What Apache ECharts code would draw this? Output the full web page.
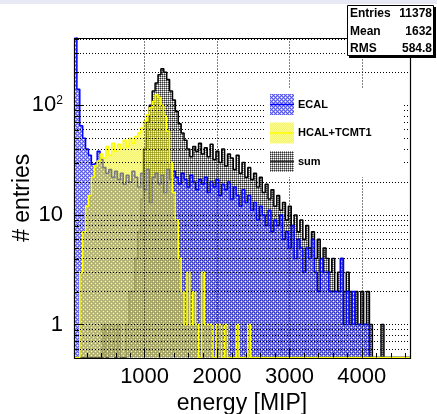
<!DOCTYPE html>
<html><head><meta charset="utf-8">
<script src="https://cdn.jsdelivr.net/npm/echarts@6/dist/echarts.min.js"></script>
<style>html,body{margin:0;padding:0;background:#fff}#c{width:437px;height:414px}</style>
</head><body><div id="c"></div><script>
// ---------------- data ----------------
const BIN_START = 25, BIN_WIDTH = 40;           // histogram bin edges: 25 + 40*i  [MIP]
const ecal = [700,140,65,50,40,35,29,30,38,32, 27,24,26,22,25,21,24,19,23,20, 25,22,18,24,17,26,13,22,24,19,
  23,16,26,21,25,22,19,24,21,18, 23,20,17,21,19,22,16,20,18,21, 15,19,17,20,14,18,15,12,17,13,
  15,11,13,9,12,10,8,11,7,9, 8,10,6,7,5,8,4,6,5,3, 5,4,6,3,2,4,3,3,2,2,
  2,2,4,1,2,1,2,1,1,1, 1,1,0,0,0,0,0,0,0,0, 0,0,0,0,0,0];
const hcal = [0,0,3,7,12,15,22,28,31,36, 33,42,35,45,38,44,40,48,42,50, 45,52,56,62,72,82,95,108,125,118,
  100,80,58,30,16,9,4,2,1,3, 1,2,1,0,3,1,1,1,0,1, 1,0,1,0,0,0,1,0,0,0,
  1,0,0,0,0,0,0,0,0,0, 0,0,0,0,0,0,0,0,0,0, 0,0,0,0,0,0,0,0,0,0,
  0,0,0,0,0,0,0,0,0,0, 0,0,0,0,0,0,0,0,0,0, 0,0,0,0,0,0];
const sum = [0,0,0,0,0,0,0,0,0,0, 1,0,1,1,0,1,0,0,1,2, 2,4,7,14,40,70,100,135,160,190,
  215,200,172,135,112,88,68,56,48,40, 34,42,38,45,36,41,34,44,32,38, 30,40,28,36,33,26,35,24,30,22,
  27,21,24,18,22,16,19,14,17,12, 15,11,13,9,12,8,10,7,9,6, 8,5,7,4,6,3,5,4,3,4,
  2,3,4,2,3,2,1,2,1,2, 1,2,1,0,0,0,1,0,0,0, 0,0,0,0,0,0];
const seriesNames = ['ECAL', 'HCAL+TCMT1', 'sum'];
const statsLabels = ['Entries', 'Mean', 'RMS'];
const statsValues = ['11378', '1632', '584.8'];
const xTickValues = [1000, 2000, 3000, 4000];
const X_MIN = 25, X_MAX = 4665, Y_MIN = 0.5, Y_MAX = 411;
const xTitle = 'energy [MIP]', yTitle = '# entries';

// ---------------- helpers ----------------
const FONT = '"Liberation Sans", Arial, Helvetica, sans-serif';
function steps(counts) {
  const pts = counts.map((c, i) => [BIN_START + i * BIN_WIDTH, c > 0 ? c : Y_MIN]);
  const last = counts[counts.length - 1];
  pts.push([BIN_START + counts.length * BIN_WIDTH, last > 0 ? last : Y_MIN]);
  return pts;
}
function makePattern(rows) {
  const c = document.createElement('canvas');
  c.width = rows[0].length; c.height = rows.length;
  const g = c.getContext('2d');
  rows.forEach((r, y) => r.forEach((col, x) => { g.fillStyle = col; g.fillRect(x, y, 1, 1); }));
  return { image: c, repeat: 'repeat' };
}
const B = 'rgba(50,50,230,0.8)', M = 'rgba(120,120,245,0.7)', W = 'rgba(255,255,255,0.6)';
const patEcal = makePattern([[B,M,B,M],[M,W,M,B],[B,M,B,M],[M,B,M,W]]);
const D = 'rgba(0,0,0,0.8)', G = 'rgba(120,120,120,0.8)', L = 'rgba(255,255,255,0.5)';
const patSum = makePattern([[D,G,D,G],[G,L,G,L],[D,G,D,G],[G,L,G,L]]);
const Y1 = 'rgba(255,255,0,0.5)', Y2 = 'rgba(225,225,0,0.5)';
const patHcal = makePattern([[Y1,Y2],[Y2,Y1]]);

const yGrid = [];
[0.1, 1, 10, 100].forEach(d => { for (let k = 1; k <= 9; k++) { const v = +(k * d).toPrecision(3); if (v > Y_MIN && v < Y_MAX) yGrid.push(v); } });

const chart = echarts.init(document.getElementById('c'), null, { renderer: 'canvas' });
const option = {
  animation: false,
  backgroundColor: '#fff',
  grid: { left: 74, right: 27, top: 38, bottom: 56.5, containLabel: false, outerBoundsMode: 'none' },
  xAxis: {
    type: 'value', min: X_MIN, max: X_MAX, minInterval: 1000, maxInterval: 1000, z: 10,
    axisLine: { show: false },
    axisTick: { show: true, inside: true, length: 9, lineStyle: { color: '#000', width: 1 } },
    axisLabel: { fontSize: 22, color: '#000', fontFamily: FONT, margin: 8, showMinLabel: false, showMaxLabel: false,
      formatter: v => (v % 1000 === 0 && v > 0) ? String(v) : '' },
    splitLine: { show: false },
    name: xTitle, nameLocation: 'middle', nameGap: 35, nameMoveOverlap: false,
    nameTextStyle: { fontSize: 23, color: '#000', fontFamily: FONT }
  },
  yAxis: {
    type: 'log', logBase: 10, min: Y_MIN, max: Y_MAX, z: 10,
    axisLine: { show: false },
    axisTick: { show: true, inside: true, length: 10, lineStyle: { color: '#000', width: 1 } },
    axisLabel: { fontSize: 22, color: '#000', fontFamily: FONT, margin: 11, showMinLabel: false, showMaxLabel: false,
      formatter: v => {
        const l = Math.log10(v), e = Math.round(l);
        if (Math.abs(l - e) > 1e-6) return '';
        return e >= 2 ? '{b|10}{s|' + e + '}' : String(Math.round(Math.pow(10, e)));
      },
      rich: { b: { fontSize: 22, fontFamily: FONT, color: '#000', lineHeight: 22 },
              s: { fontSize: 12, fontFamily: FONT, color: '#000', verticalAlign: 'top', lineHeight: 12 } } },
    splitLine: { show: false },
    name: yTitle, nameLocation: 'middle', nameRotate: 90, nameGap: 40, nameMoveOverlap: false,
    nameTextStyle: { fontSize: 23, color: '#000', fontFamily: FONT }
  },
  series: [
    { type: 'line', name: 'grid', data: [[X_MIN, Y_MIN]], symbol: 'none', lineStyle: { width: 0 }, z: 1, silent: true,
      markLine: { silent: true, symbol: ['none', 'none'], label: { show: false }, animation: false,
        lineStyle: { color: '#000', type: [1, 2], width: 1 },
        data: [...yGrid.map(v => ({ yAxis: v })), ...xTickValues.map(v => ({ xAxis: v }))] } },
    { type: 'line', name: seriesNames[2], data: steps(sum), step: 'end', symbol: 'none', z: 2,
      lineStyle: { color: '#000', width: 1.5 }, areaStyle: { color: patSum, origin: 'start', opacity: 1 } },
    { type: 'line', name: seriesNames[0], data: steps(ecal), step: 'end', symbol: 'none', z: 3,
      lineStyle: { color: '#0000ff', width: 1.5 }, areaStyle: { color: patEcal, origin: 'start', opacity: 1 } },
    { type: 'line', name: seriesNames[1], data: steps(hcal), step: 'end', symbol: 'none', z: 4,
      lineStyle: { color: '#ffff00', width: 1.5 }, areaStyle: { color: patHcal, origin: 'start', opacity: 1 } }
  ]
};
chart.setOption(option);

// ---------------- decorations (frame, minor ticks, legend, stats) ----------------
const px = (x, y) => chart.convertToPixel({ gridIndex: 0 }, [x, y]);
const tl = px(X_MIN, Y_MAX), br = px(X_MAX, Y_MIN);
const g = [];
g.push({ type: 'rect', shape: { x: 0, y: 0, width: 437, height: 4 }, style: { fill: '#e9e9f5' }, z: 60, silent: true });
const ln = (x1, y1, x2, y2, w) => ({ type: 'line', shape: { x1, y1, x2, y2 }, style: { stroke: '#000', lineWidth: w || 1 }, z: 60, silent: true });
yGrid.forEach(v => { const yy = Math.round(px(X_MIN, v)[1]) + 0.5; if (![1, 10, 100].includes(v)) g.push(ln(tl[0], yy, tl[0] + 5, yy)); });
for (let v = 200; v < X_MAX; v += 200) { if (v % 1000 === 0) continue; const xx = Math.round(px(v, Y_MIN)[0]) + 0.5; g.push(ln(xx, br[1], xx, br[1] - 4.5)); }
g.push({ type: 'rect', shape: { x: Math.round(tl[0]) + 0.5, y: Math.round(tl[1]) + 0.5, width: Math.round(br[0] - tl[0]), height: Math.round(br[1] - tl[1]) },
  style: { fill: 'none', stroke: '#000', lineWidth: 1.2 }, z: 61, silent: true });
// legend
const legendPats = [patEcal, patHcal, patSum], legendLines = ['#0000ff', '#ffff00', '#333'];
g.push({ type: 'rect', shape: { x: 265, y: 88, width: 137, height: 89 }, style: { fill: '#fff' }, z: 62, silent: true });
seriesNames.forEach((nm, i) => {
  const cy = 104.5 + 28.5 * i;
  g.push({ type: 'rect', shape: { x: 270, y: cy - 10.5, width: 24, height: 21 }, style: { fill: legendPats[i] }, z: 63, silent: true });
  g.push({ type: 'line', shape: { x1: 270, y1: cy, x2: 294, y2: cy }, style: { stroke: legendLines[i], lineWidth: 1.5 }, z: 64, silent: true });
  g.push({ type: 'text', x: 298, y: cy, style: { text: nm, font: 'bold 11px ' + FONT, fill: '#000', verticalAlign: 'middle', align: 'left' }, z: 64, silent: true });
});
// stats box
g.push({ type: 'rect', shape: { x: 349, y: 7, width: 87, height: 51 }, style: { fill: '#000' }, z: 62, silent: true });
g.push({ type: 'rect', shape: { x: 347.5, y: 5.5, width: 86, height: 50 }, style: { fill: '#fff', stroke: '#000', lineWidth: 1 }, z: 63, silent: true });
statsLabels.forEach((lab, i) => {
  const cy = 14 + 17.5 * i;
  g.push({ type: 'text', x: 350, y: cy, style: { text: lab, font: 'bold 12px ' + FONT, fill: '#000', verticalAlign: 'middle', align: 'left' }, z: 64, silent: true });
  g.push({ type: 'text', x: 432, y: cy, style: { text: statsValues[i], font: 'bold 12px ' + FONT, fill: '#000', verticalAlign: 'middle', align: 'right' }, z: 64, silent: true });
});
chart.setOption({ graphic: g });
</script></body></html>
